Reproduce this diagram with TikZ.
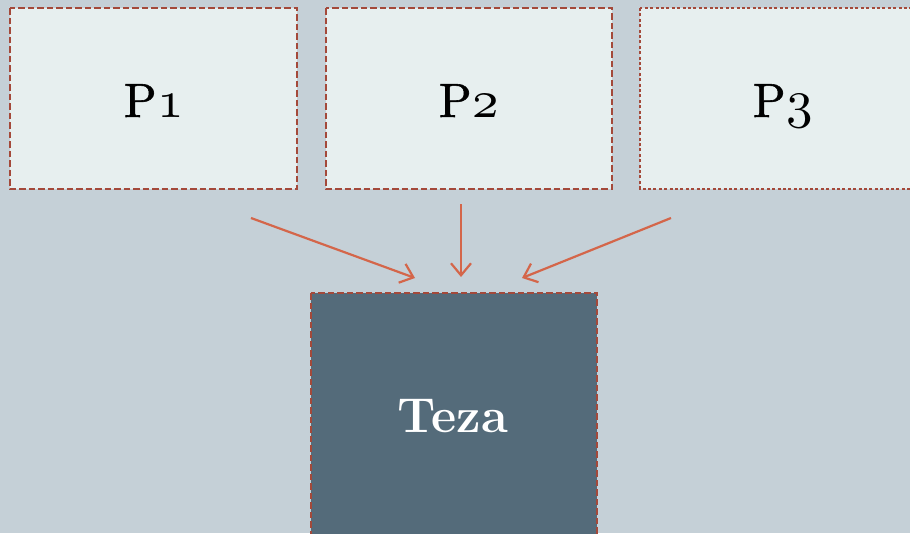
\documentclass[tikz,border=0pt]{standalone}
\usepackage{fontspec}
\usetikzlibrary{arrows.meta}
% slightly heavier roman for the part labels
\newfontfamily\plab{lmroman10-regular.otf}[FakeBold=1.2]
% old-style digits taken from the math italic font, enlarged
\newcommand{\osdigit}[1]{\hspace{1pt}\scalebox{5.3}{\fontencoding{OML}\fontfamily{cmm}\fontseries{m}\fontshape{it}\fontsize{10}{12}\selectfont #1}}
\definecolor{bgcol}{HTML}{C5D0D7}
\definecolor{boxfill}{HTML}{E7EFEF}
\definecolor{edgecol}{HTML}{A4493A}
\definecolor{arrowcol}{HTML}{D4664A}
\definecolor{thesisfill}{HTML}{546B7A}
\begin{document}
\begin{tikzpicture}[x=1pt,y=-1pt,
  partbox/.style={draw=edgecol, fill=boxfill, line width=2.4pt, dash pattern=on 6.5pt off 3pt},
  dotbox/.style={draw=edgecol, fill=boxfill, line width=2.6pt, dash pattern=on 3pt off 2.4pt},
  thesisbox/.style={draw=edgecol, fill=thesisfill, line width=2.4pt, dash pattern=on 6.5pt off 3pt},
  lbl/.style={font=\plab\fontsize{48}{52}\selectfont},
  feed/.style={draw=arrowcol, line width=2.2pt, -{Straight Barb[length=12pt,width=20pt,line width=2.2pt]}}]
  \fill[bgcol] (0,0) rectangle (910,533);
  \useasboundingbox (0,0) rectangle (910,533);
  \clip (0,0) rectangle (910,533);
  % parts
  \draw[partbox] (10,8) rectangle (297,189);
  \draw[partbox] (326,8) rectangle (612,189);
  \draw[dotbox] (640,8) rectangle (930,189);
  \node[lbl, anchor=base] (p1) at (154,117) {P\osdigit{1}};
  \node[lbl, anchor=base] (p2) at (469,117) {P\osdigit{2}};
  \node[lbl, anchor=base] (p3) at (783,117) {P\osdigit{3}};
  % thesis
  \draw[thesisbox] (311,293) rectangle (597,560);
  \node[font=\fontsize{49}{52}\selectfont\bfseries, text=white, anchor=base] (teza) at (453,432) {Teza};
  % feeding arrows
  \coordinate (s1) at (251,218); \coordinate (e1) at (415,278);
  \coordinate (s2) at (461,204); \coordinate (e2) at (461,277);
  \coordinate (s3) at (671,218); \coordinate (e3) at (522,278);
  \draw[feed] (s1) -- (e1);
  \draw[feed] (s2) -- (e2);
  \draw[feed] (s3) -- (e3);
\end{tikzpicture}
\end{document}
